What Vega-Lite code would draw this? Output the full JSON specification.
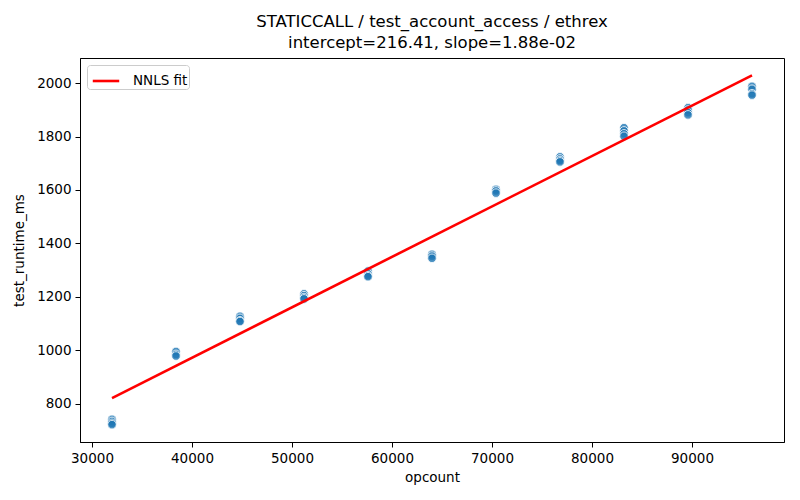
{
  "$schema": "https://vega.github.io/schema/vega-lite/v6.json",
  "autosize": "none",
  "padding": {"left": 80, "top": 58, "right": 16, "bottom": 58},
  "width": 704,
  "height": 384,
  "title": {
    "text": ["STATICCALL / test_account_access / ethrex", "intercept=216.41, slope=1.88e-02"],
    "anchor": "middle",
    "fontSize": 16.5,
    "fontWeight": "normal",
    "lineHeight": 21,
    "offset": 7,
    "color": "black"
  },
  "datasets": {
    "runs": [
      {"opcount": 32000, "test_runtime_ms": 741},
      {"opcount": 32000, "test_runtime_ms": 733},
      {"opcount": 32000, "test_runtime_ms": 726},
      {"opcount": 32000, "test_runtime_ms": 721},
      {"opcount": 38400, "test_runtime_ms": 995},
      {"opcount": 38400, "test_runtime_ms": 984},
      {"opcount": 38400, "test_runtime_ms": 978},
      {"opcount": 44800, "test_runtime_ms": 1127},
      {"opcount": 44800, "test_runtime_ms": 1119},
      {"opcount": 44800, "test_runtime_ms": 1110},
      {"opcount": 44800, "test_runtime_ms": 1107},
      {"opcount": 51200, "test_runtime_ms": 1211},
      {"opcount": 51200, "test_runtime_ms": 1204},
      {"opcount": 51200, "test_runtime_ms": 1197},
      {"opcount": 51200, "test_runtime_ms": 1192},
      {"opcount": 57600, "test_runtime_ms": 1296},
      {"opcount": 57600, "test_runtime_ms": 1286},
      {"opcount": 57600, "test_runtime_ms": 1279},
      {"opcount": 57600, "test_runtime_ms": 1275},
      {"opcount": 64000, "test_runtime_ms": 1359},
      {"opcount": 64000, "test_runtime_ms": 1352},
      {"opcount": 64000, "test_runtime_ms": 1344},
      {"opcount": 70400, "test_runtime_ms": 1602},
      {"opcount": 70400, "test_runtime_ms": 1596},
      {"opcount": 70400, "test_runtime_ms": 1588},
      {"opcount": 76800, "test_runtime_ms": 1724},
      {"opcount": 76800, "test_runtime_ms": 1716},
      {"opcount": 76800, "test_runtime_ms": 1710},
      {"opcount": 76800, "test_runtime_ms": 1705},
      {"opcount": 83200, "test_runtime_ms": 1833},
      {"opcount": 83200, "test_runtime_ms": 1821},
      {"opcount": 83200, "test_runtime_ms": 1810},
      {"opcount": 83200, "test_runtime_ms": 1801},
      {"opcount": 89600, "test_runtime_ms": 1908},
      {"opcount": 89600, "test_runtime_ms": 1899},
      {"opcount": 89600, "test_runtime_ms": 1889},
      {"opcount": 89600, "test_runtime_ms": 1881},
      {"opcount": 96000, "test_runtime_ms": 1988},
      {"opcount": 96000, "test_runtime_ms": 1977},
      {"opcount": 96000, "test_runtime_ms": 1960},
      {"opcount": 96000, "test_runtime_ms": 1955}
    ],
    "fit": [
      {"opcount": 32000, "test_runtime_ms": 820.6, "series": "NNLS fit"},
      {"opcount": 96000, "test_runtime_ms": 2029.0, "series": "NNLS fit"}
    ]
  },
  "layer": [
    {
      "data": {"name": "runs"},
      "mark": {
        "type": "point",
        "shape": "circle",
        "filled": true,
        "size": 74,
        "fill": "#1f77b4",
        "fillOpacity": 0.8,
        "stroke": "white",
        "strokeWidth": 0.8,
        "strokeOpacity": 1
      },
      "encoding": {
        "x": {
          "field": "opcount",
          "type": "quantitative",
          "title": "opcount",
          "scale": {"domain": [28800, 99200], "nice": false, "zero": false},
          "axis": {"values": [30000, 40000, 50000, 60000, 70000, 80000, 90000], "format": "d"}
        },
        "y": {
          "field": "test_runtime_ms",
          "type": "quantitative",
          "title": "test_runtime_ms",
          "scale": {"domain": [656, 2094], "nice": false, "zero": false},
          "axis": {"values": [800, 1000, 1200, 1400, 1600, 1800, 2000], "format": "d"}
        }
      }
    },
    {
      "data": {"name": "fit"},
      "mark": {"type": "line", "strokeWidth": 2.6},
      "encoding": {
        "x": {"field": "opcount", "type": "quantitative"},
        "y": {"field": "test_runtime_ms", "type": "quantitative"},
        "color": {
          "field": "series",
          "type": "nominal",
          "scale": {"domain": ["NNLS fit"], "range": ["#ff0000"]},
          "legend": {
            "title": null,
            "orient": "top-left",
            "offset": 7,
            "padding": 1,
            "fillColor": "white",
            "strokeColor": "#cccccc",
            "cornerRadius": 3,
            "symbolType": "stroke",
            "symbolSize": 700,
            "symbolStrokeWidth": 2.6,
            "symbolOffset": 3,
            "labelFontSize": 13.5,
            "labelColor": "black",
            "labelOffset": 12,
            "labelLimit": 200
          }
        }
      }
    }
  ],
  "config": {
    "font": "DejaVu Sans",
    "background": "white",
    "view": {"stroke": "black", "strokeWidth": 1},
    "axis": {
      "grid": false,
      "domainColor": "black",
      "tickColor": "black",
      "tickSize": 5,
      "labelFontSize": 13.5,
      "labelColor": "black",
      "labelPadding": 4,
      "titleFontSize": 13.5,
      "titleFontWeight": "normal",
      "titleColor": "black"
    },
    "axisX": {"titlePadding": 6},
    "axisY": {"titlePadding": 10}
  }
}
